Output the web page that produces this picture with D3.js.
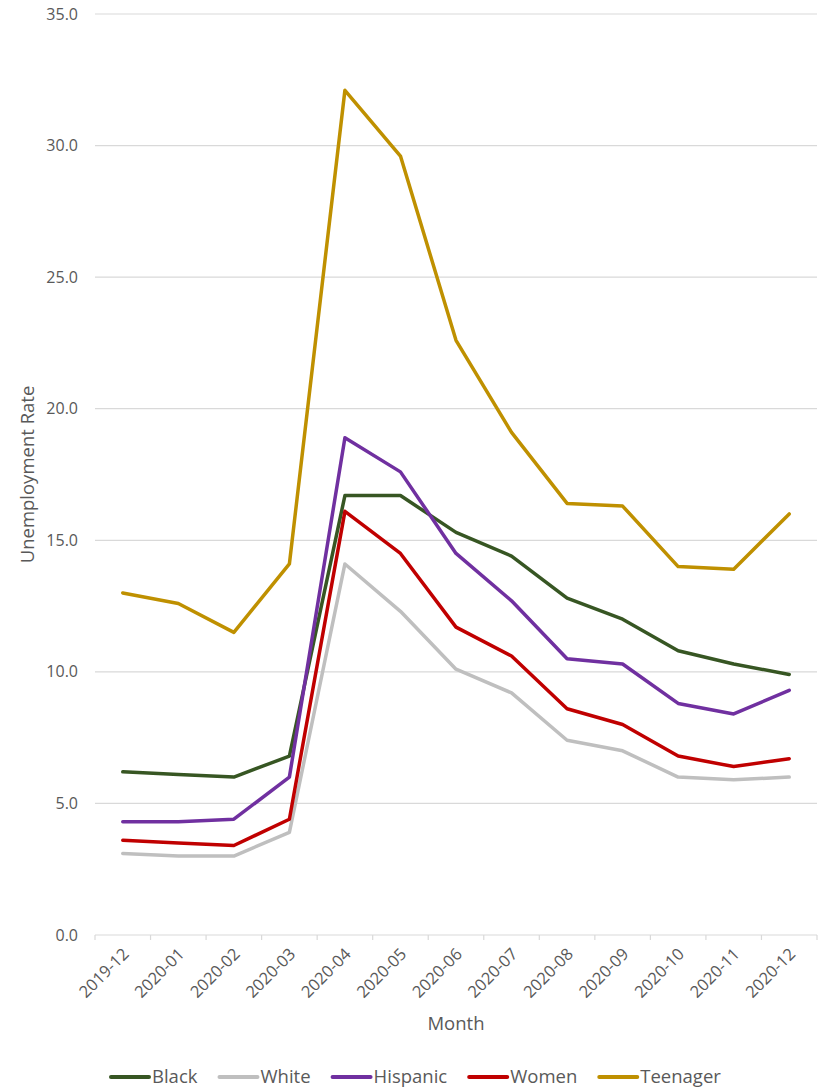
<!DOCTYPE html>
<html><head><meta charset="utf-8">
<script src="https://cdn.jsdelivr.net/npm/d3@7"></script>
<style>
html,body{margin:0;padding:0;background:#fff;}
text{font-family:"Open Sans",Lato,sans-serif;fill:#595959;}
</style></head>
<body>
<svg id="chart" width="818" height="1089"></svg>
<script>
const months = ["2019-12","2020-01","2020-02","2020-03","2020-04","2020-05","2020-06","2020-07","2020-08","2020-09","2020-10","2020-11","2020-12"];
const black    = [6.2, 6.1, 6.0, 6.8, 16.7, 16.7, 15.3, 14.4, 12.8, 12.0, 10.8, 10.3, 9.9];
const white    = [3.1, 3.0, 3.0, 3.9, 14.1, 12.3, 10.1, 9.2, 7.4, 7.0, 6.0, 5.9, 6.0];
const hispanic = [4.3, 4.3, 4.4, 6.0, 18.9, 17.6, 14.5, 12.7, 10.5, 10.3, 8.8, 8.4, 9.3];
const women    = [3.6, 3.5, 3.4, 4.4, 16.1, 14.5, 11.7, 10.6, 8.6, 8.0, 6.8, 6.4, 6.7];
const teenager = [13.0, 12.6, 11.5, 14.1, 32.1, 29.6, 22.6, 19.1, 16.4, 16.3, 14.0, 13.9, 16.0];
const seriesNames = ["Black","White","Hispanic","Women","Teenager"];
const seriesColors = ["#375623","#BFBFBF","#7030A0","#C00000","#BF9000"];
const yTicks = [0,5,10,15,20,25,30,35];

const seriesValues = [black, white, hispanic, women, teenager];
const series = seriesNames.map((n,i)=>({name:n, color:seriesColors[i], values:seriesValues[i]}));

const svg = d3.select("#chart");
const pLeft = 95, pRight = 817, pTop = 14, pBottom = 935;

const x = d3.scaleBand().domain(months).range([pLeft,pRight]).padding(0);
const y = d3.scaleLinear().domain([0,35]).range([pBottom,pTop]);

// gridlines
svg.append("g").selectAll("line").data(yTicks.filter(d=>d>0)).join("line")
  .attr("x1",pLeft).attr("x2",pRight)
  .attr("y1",d=>y(d)).attr("y2",d=>y(d))
  .attr("stroke","#D9D9D9").attr("stroke-width",1.2);

// y tick labels
svg.append("g").selectAll("text").data(yTicks).join("text")
  .attr("x",78).attr("y",d=>y(d)).attr("dy","0.35em")
  .attr("text-anchor","end").attr("font-size",16)
  .text(d=>d3.format(".1f")(d));

// x axis line and tick marks (between categories)
svg.append("line").attr("x1",pLeft).attr("x2",pRight).attr("y1",pBottom).attr("y2",pBottom)
  .attr("stroke","#D9D9D9").attr("stroke-width",1.2);
const boundaries = months.map(m=>x(m)).concat([x(months[months.length-1])+x.bandwidth()]);
svg.append("g").selectAll("line").data(boundaries).join("line")
  .attr("x1",d=>d).attr("x2",d=>d).attr("y1",pBottom).attr("y2",pBottom+5)
  .attr("stroke","#D9D9D9").attr("stroke-width",1.2);

// x labels
svg.append("g").selectAll("text").data(months).join("text")
  .attr("transform",d=>`translate(${x(d)+x.bandwidth()/2+3},${pBottom+16}) rotate(-45)`)
  .attr("text-anchor","end").attr("dy","0.35em").attr("font-size",16.5)
  .text(d=>d);

// lines
const line = d3.line().x((d,i)=>x(months[i])+x.bandwidth()/2).y(d=>y(d));
svg.append("g").selectAll("path").data(series).join("path")
  .attr("d",d=>line(d.values))
  .attr("fill","none").attr("stroke",d=>d.color).attr("stroke-width",3.5)
  .attr("stroke-linejoin","round").attr("stroke-linecap","round");

// axis titles
svg.append("text").attr("x",(pLeft+pRight)/2).attr("y",1030).attr("text-anchor","middle")
  .attr("font-size",18.5).text("Month");
svg.append("text").attr("transform",`translate(33.5,${(pTop+pBottom)/2}) rotate(-90)`)
  .attr("text-anchor","middle").attr("font-size",18.5).text("Unemployment Rate");

// legend
const lg = svg.append("g");
let lx = 111;
series.forEach(s=>{
  lg.append("line").attr("x1",lx).attr("x2",lx+38).attr("y1",1077).attr("y2",1077)
    .attr("stroke",s.color).attr("stroke-width",4).attr("stroke-linecap","round");
  const t = lg.append("text").attr("x",lx+41).attr("y",1077).attr("dy","0.35em")
    .attr("font-size",18.5).text(s.name);
  lx += 41 + t.node().getComputedTextLength() + 22;
});
</script>
</body></html>
